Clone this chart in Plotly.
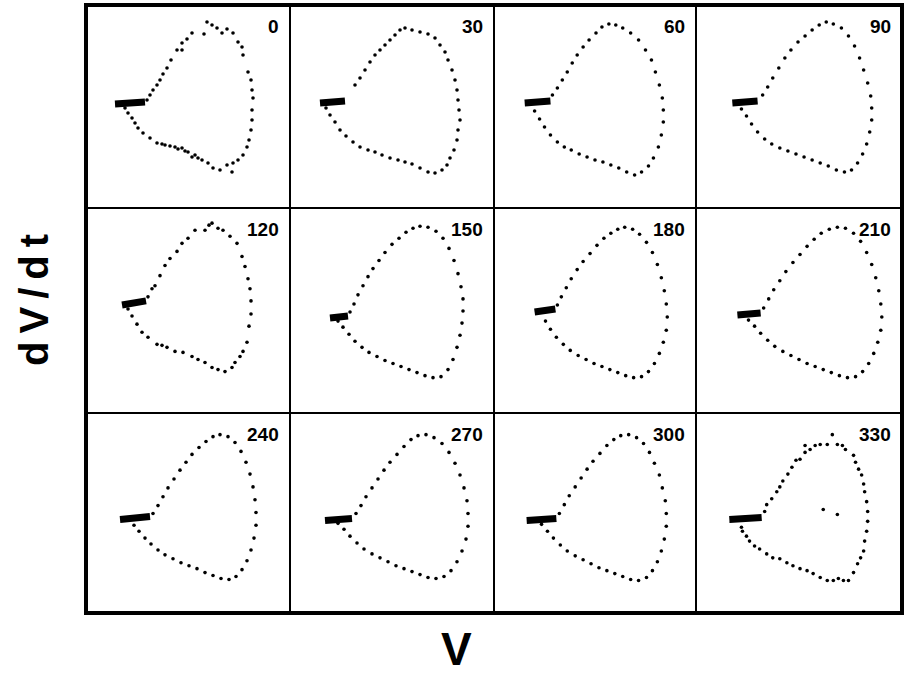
import plotly.graph_objects as go

# Phase-plane loops (V against dV/dt, arbitrary units), one panel per stimulus phase (deg)
PHASES = ["0", "30", "60", "90", "120", "150", "180", "210", "240", "270", "300", "330"]

# ---- phase 0
REST_V_0 = [29, 59]
REST_D_0 = [104, 106]
V_0 = [61, 64, 67, 71, 74, 77, 81, 85, 91, 96, 96, 101, 106, 118, 121, 126, 131, 136, 141,
       147, 152, 156, 157, 162, 165, 166, 167, 166, 166, 165, 163, 161, 157, 152, 147, 146,
       141, 134, 127, 122, 116, 109, 102, 96, 89, 79, 71, 64, 57, 52, 49, 46, 42, 39,
       76, 84, 92, 99, 106, 112]
D_0 = [108, 113, 118, 123, 128, 134, 140, 148, 158, 165, 158, 169, 175, 174, 186, 183, 180,
       175, 179, 175, 166, 161, 153, 136, 128, 118, 110, 98, 88, 78, 68, 61, 53, 48, 45, 36,
       43, 38, 40, 45, 48, 53, 56, 60, 61, 63, 65, 70, 75, 80, 85, 90, 95, 100,
       64, 62, 59, 57, 51, 50]

# ---- phase 30
REST_V_30 = [30, 55]
REST_D_30 = [105, 107]
V_30 = [65, 70, 75, 80, 85, 90, 95, 100, 105, 110, 115, 122, 130, 138, 145, 150, 155, 158,
        162, 165, 167, 168, 169, 170, 168, 167, 164, 160, 157, 152, 145, 138, 130, 122, 115,
        108, 100, 92, 85, 78, 70, 63, 56, 50, 45, 40, 36]
D_30 = [123, 130, 138, 146, 153, 158, 163, 168, 173, 178, 180, 178, 176, 174, 170, 163, 156,
        148, 138, 128, 118, 108, 98, 88, 78, 68, 58, 50, 43, 38, 35, 36, 40, 44, 46, 48, 50,
        53, 56, 58, 61, 66, 72, 78, 86, 93, 100]

# ---- phase 60
REST_V_60 = [31, 57]
REST_D_60 = [105, 107]
V_60 = [59, 64, 69, 74, 79, 84, 90, 96, 103, 109, 116, 123, 130, 138, 146, 153, 159, 163,
        167, 170, 171, 171, 169, 166, 161, 156, 149, 142, 134, 126, 118, 110, 102, 94, 86,
        78, 71, 64, 57, 51, 46, 41]
D_60 = [113, 120, 128, 136, 145, 153, 161, 168, 175, 181, 184, 183, 180, 175, 168, 158, 148,
        136, 123, 110, 98, 86, 73, 61, 50, 42, 36, 33, 36, 40, 43, 46, 48, 51, 54, 58, 61,
        66, 73, 81, 89, 97]

# ---- phase 90
REST_V_90 = [36, 61]
REST_D_90 = [105, 107]
V_90 = [66, 71, 76, 82, 88, 94, 101, 108, 115, 122, 129, 136, 144, 151, 157, 162, 166, 170,
        173, 174, 174, 172, 169, 165, 160, 154, 147, 139, 131, 123, 115, 107, 99, 91, 83,
        75, 68, 61, 55, 50, 45]
D_90 = [113, 121, 130, 140, 150, 158, 166, 172, 178, 183, 186, 184, 180, 172, 162, 150, 138,
        125, 112, 100, 88, 76, 64, 54, 45, 38, 36, 38, 42, 45, 48, 51, 54, 57, 60, 64, 69,
        76, 84, 92, 99]

# ---- phase 120
REST_V_120 = [36, 60]
REST_D_120 = [107, 111]
V_120 = [62, 66, 69, 74, 79, 84, 91, 96, 102, 109, 119, 123, 126, 132, 137, 144, 151, 156,
         159, 162, 164, 165, 165, 163, 161, 157, 154, 149, 146, 139, 132, 126, 119, 112, 106,
         97, 89, 81, 76, 71, 62, 56, 51, 46, 42]
D_120 = [115, 123, 126, 136, 146, 153, 160, 168, 173, 181, 181, 186, 188, 183, 181, 175, 168,
         155, 145, 133, 123, 111, 98, 86, 70, 61, 56, 50, 45, 41, 43, 45, 50, 53, 56, 60, 61,
         65, 67, 68, 75, 80, 88, 96, 103]

# ---- phase 150
REST_V_150 = [40, 58]
REST_D_150 = [94, 96]
V_150 = [60, 64, 68, 73, 78, 83, 89, 95, 102, 109, 116, 123, 130, 138, 146, 153, 159, 164,
         168, 171, 173, 173, 172, 170, 167, 163, 158, 151, 143, 135, 127, 119, 111, 103, 95,
         87, 79, 72, 65, 59, 53, 48]
D_150 = [100, 108, 117, 126, 135, 143, 151, 159, 167, 173, 179, 183, 185, 184, 180, 173, 163,
         151, 138, 125, 113, 101, 89, 77, 65, 53, 43, 36, 35, 37, 40, 43, 46, 49, 52, 56, 60,
         65, 71, 78, 85, 91]

# ---- phase 180
REST_V_180 = [41, 62]
REST_D_180 = [100, 103]
V_180 = [64, 68, 73, 78, 84, 90, 97, 104, 111, 118, 125, 132, 140, 147, 154, 160, 165, 169,
         172, 174, 175, 174, 171, 167, 162, 156, 149, 141, 133, 125, 117, 109, 101, 93, 85,
         77, 70, 63, 57, 52]
D_180 = [107, 115, 124, 133, 142, 150, 158, 166, 173, 178, 182, 184, 182, 177, 169, 159, 147,
         134, 121, 108, 95, 82, 70, 59, 49, 41, 36, 35, 37, 40, 43, 46, 49, 53, 57, 62, 68,
         75, 83, 91]

# ---- phase 210
REST_V_210 = [41, 64]
REST_D_210 = [97, 99]
V_210 = [67, 72, 77, 83, 89, 96, 103, 110, 117, 124, 132, 140, 148, 156, 163, 169, 174, 178,
         181, 183, 184, 183, 180, 176, 171, 165, 158, 150, 142, 134, 126, 118, 110, 102, 94,
         86, 78, 71, 64, 58, 52]
D_210 = [104, 113, 122, 131, 140, 149, 157, 165, 172, 178, 182, 184, 183, 178, 170, 159, 147,
         134, 121, 108, 95, 82, 70, 59, 49, 41, 36, 35, 37, 40, 43, 46, 49, 53, 57, 61, 66,
         72, 79, 86, 92]

# ---- phase 240
REST_V_240 = [34, 64]
REST_D_240 = [95, 98]
V_240 = [67, 72, 77, 82, 88, 94, 100, 106, 113, 120, 127, 134, 142, 149, 155, 160, 164, 167,
         169, 170, 170, 168, 165, 161, 156, 150, 143, 135, 127, 119, 111, 103, 95, 87, 79,
         72, 65, 59, 53, 48]
D_240 = [101, 109, 118, 127, 136, 145, 153, 161, 168, 174, 179, 181, 179, 173, 164, 153, 141,
         128, 115, 102, 89, 76, 64, 53, 44, 37, 34, 35, 38, 41, 45, 48, 51, 55, 59, 64, 70,
         76, 83, 89]

# ---- phase 270
REST_V_270 = [35, 62]
REST_D_270 = [94, 96]
V_270 = [66, 71, 76, 82, 88, 94, 100, 107, 114, 121, 128, 136, 144, 152, 159, 165, 170, 174,
         177, 178, 178, 176, 172, 167, 161, 154, 146, 138, 130, 122, 114, 106, 98, 90, 82,
         74, 67, 60, 54, 48]
D_270 = [101, 109, 118, 127, 136, 145, 153, 161, 169, 176, 180, 181, 178, 172, 163, 152, 140,
         127, 114, 101, 88, 75, 63, 52, 43, 37, 35, 36, 39, 42, 45, 48, 52, 56, 60, 65, 71,
         78, 85, 91]

# ---- phase 300
REST_V_300 = [33, 63]
REST_D_300 = [94, 96]
V_300 = [66, 71, 76, 82, 88, 94, 100, 107, 114, 121, 128, 136, 144, 151, 157, 162, 167, 170,
         173, 174, 174, 172, 169, 165, 160, 154, 146, 138, 130, 122, 114, 106, 98, 90, 82,
         74, 67, 60, 54, 48]
D_300 = [101, 110, 119, 128, 137, 146, 154, 162, 170, 176, 180, 181, 178, 172, 163, 152, 140,
         127, 114, 101, 88, 75, 63, 52, 43, 36, 33, 34, 37, 40, 43, 46, 50, 54, 58, 63, 69,
         76, 83, 90]

# ---- phase 330
REST_V_330 = [33, 65]
REST_D_330 = [95, 97]
V_330 = [68, 70, 75, 80, 83, 86, 91, 95, 99, 103, 108, 108, 113, 118, 123, 130, 135, 140,
         145, 148, 156, 158, 161, 164, 166, 167, 169, 170, 170, 169, 167, 166, 163, 160, 156,
         151, 146, 141, 136, 130, 123, 116, 110, 103, 96, 90, 83, 76, 70, 63, 58, 53, 50, 46,
         45, 126, 140]
D_330 = [103, 110, 116, 123, 128, 134, 141, 148, 155, 156, 163, 170, 166, 170, 171, 171, 181,
         171, 170, 166, 160, 153, 146, 140, 131, 123, 113, 103, 93, 83, 73, 63, 56, 50, 41, 33,
         33, 35, 33, 33, 36, 40, 43, 45, 48, 51, 55, 56, 60, 65, 68, 73, 78, 83, 87, 105, 100]

PANELS = [
    (REST_V_0, REST_D_0, V_0, D_0), (REST_V_30, REST_D_30, V_30, D_30),
    (REST_V_60, REST_D_60, V_60, D_60), (REST_V_90, REST_D_90, V_90, D_90),
    (REST_V_120, REST_D_120, V_120, D_120), (REST_V_150, REST_D_150, V_150, D_150),
    (REST_V_180, REST_D_180, V_180, D_180), (REST_V_210, REST_D_210, V_210, D_210),
    (REST_V_240, REST_D_240, V_240, D_240), (REST_V_270, REST_D_270, V_270, D_270),
    (REST_V_300, REST_D_300, V_300, D_300), (REST_V_330, REST_D_330, V_330, D_330),
]

W, H = 904, 679
col_px = [86, 290, 494, 696, 902]
row_px = [5, 208, 413, 613]

fig = go.Figure()
for i, (phase, (rv, rd, v, d)) in enumerate(zip(PHASES, PANELS)):
    r, c = divmod(i, 4)
    n = "" if i == 0 else str(i + 1)
    xa, ya = "x" + n, "y" + n
    # dense resting cluster
    fig.add_trace(go.Scatter(x=rv, y=rd, mode="lines", xaxis=xa, yaxis=ya,
                             line=dict(color="black", width=7), hoverinfo="skip"))
    # sampled trajectory
    fig.add_trace(go.Scatter(x=v, y=d, mode="markers", xaxis=xa, yaxis=ya,
                             marker=dict(color="black", size=3.6), hoverinfo="skip"))
    dom_x = [col_px[c] / W, col_px[c + 1] / W]
    dom_y = [1 - row_px[r + 1] / H, 1 - row_px[r] / H]
    common = dict(showgrid=False, zeroline=False, showticklabels=False, ticks="",
                  showline=True, mirror=True, linecolor="black", linewidth=1.4,
                  fixedrange=True)
    fig.update_layout(**{
        "xaxis" + n: dict(common, range=[0, 204], domain=dom_x, anchor=ya),
        "yaxis" + n: dict(common, range=[0, 203], domain=dom_y, anchor=xa),
    })
    fig.add_annotation(x=dom_x[1] - 9 / W, y=dom_y[1] - 9 / H, xref="paper", yref="paper",
                       xanchor="right", yanchor="top", text="<b>%s</b>" % phase,
                       showarrow=False,
                       font=dict(family="Liberation Sans", size=19, color="black"))

# heavy outer frame
fig.add_shape(type="rect", xref="paper", yref="paper", x0=col_px[0] / W, x1=col_px[-1] / W,
              y0=1 - row_px[-1] / H, y1=1 - row_px[0] / H, line=dict(color="black", width=4))

fig.add_annotation(x=34 / W, y=1 - 300 / H, xref="paper", yref="paper", textangle=-90,
                   xanchor="center", yanchor="middle",
                   text="<b>d\u2009V\u2009/\u2009d\u2009t</b>", showarrow=False,
                   font=dict(family="Liberation Sans", size=40, color="black"))
fig.add_annotation(x=456 / W, y=1 - 649 / H, xref="paper", yref="paper",
                   xanchor="center", yanchor="middle",
                   text="<b>V</b>", showarrow=False,
                   font=dict(family="Liberation Sans", size=46, color="black"))

fig.update_layout(width=W, height=H, margin=dict(l=0, r=0, t=0, b=0),
                  paper_bgcolor="white", plot_bgcolor="white", showlegend=False)
fig.write_html("out.html")
